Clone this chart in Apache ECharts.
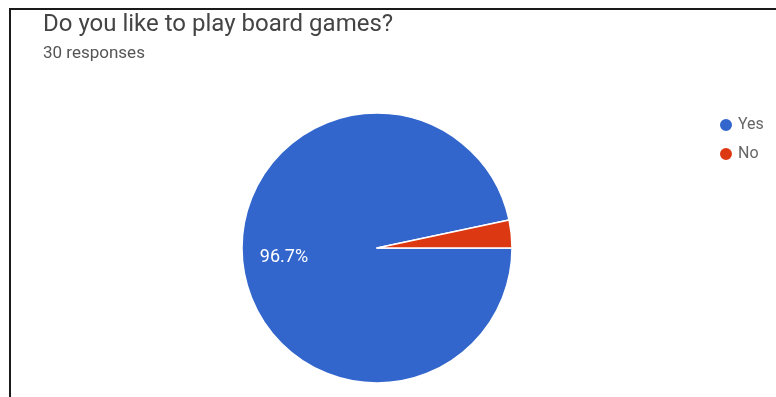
<!DOCTYPE html>
<html>
<head>
<meta charset="utf-8">
<script src="https://cdn.jsdelivr.net/npm/echarts@6/dist/echarts.min.js"></script>
<style>
	html, body { margin: 0; padding: 0; background: #fff; }
	#main { width: 776px; height: 397px; position: relative; }
	#frame {
		position: absolute; left: 9px; top: 8px; right: 0; bottom: 0;
		border-top: 2px solid #1a1a1a; border-left: 2px solid #1a1a1a;
		pointer-events: none;
	}
</style>
</head>
<body>
<div id="main"></div>
<div id="frame"></div>
<script>
	let categories = ['Yes', 'No'];
	let counts = [29, 1];
	let colors = ['#3366cc', '#dc3912'];

	let total = counts.reduce((a, b) => a + b, 0);
	let pieData = categories.map((name, i) => ({ name: name, value: counts[i] }));

	let myChart = echarts.init(document.getElementById('main'));
	myChart.setOption({
		color: colors,
		title: {
			text: 'Do you like to play board games?',
			subtext: total + ' responses',
			left: 38,
			top: 8,
			itemGap: 8,
			textStyle: {
				fontFamily: 'Roboto',
				fontSize: 24,
				fontWeight: 'normal',
				color: '#444'
			},
			subtextStyle: {
				fontFamily: 'Roboto',
				fontSize: 17,
				color: '#555'
			}
		},
		legend: {
			orient: 'vertical',
			left: 713,
			top: 112,
			itemGap: 13,
			icon: 'circle',
			itemWidth: 14,
			itemHeight: 14,
			textStyle: {
				fontFamily: 'Roboto',
				fontSize: 16,
				color: '#666'
			},
			data: categories
		},
		series: [
			{
				type: 'pie',
				center: [377, 248],
				radius: [0, 135],
				startAngle: 0,
				clockwise: true,
				animation: false,
				itemStyle: {
					borderColor: '#fff',
					borderWidth: 1.5
				},
				label: { show: false },
				labelLine: { show: false },
				data: pieData
			},
			{
				// transparent ring, only used to place the percentage label
				type: 'pie',
				center: [377, 248],
				radius: [46, 135],
				startAngle: 0,
				clockwise: true,
				animation: false,
				silent: true,
				legendHoverLink: false,
				itemStyle: { color: 'rgba(0,0,0,0)' },
				label: {
					show: true,
					position: 'inside',
					fontFamily: 'Roboto',
					fontSize: 18,
					color: '#fff',
					formatter: function (p) {
						return p.percent < 5 ? '' : (p.value / total * 100).toFixed(1) + '%';
					}
				},
				labelLine: { show: false },
				data: pieData.map(d => ({ name: d.name + ' ', value: d.value }))
			}
		]
	});
</script>
</body>
</html>
